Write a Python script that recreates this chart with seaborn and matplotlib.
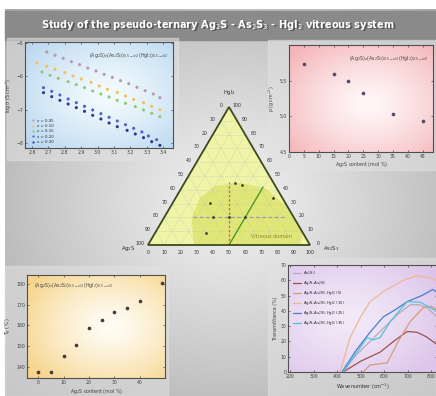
import numpy as np
import pandas as pd
import seaborn as sns
import matplotlib.pyplot as plt
from matplotlib.patches import Polygon, Rectangle

# ---- data ----
# top-left: conductivity vs 1000/T
x_labels_tl = ["x = 0.05", "x = 0.10", "x = 0.15", "x = 0.20", "x = 0.30"]
invT_a = [2.69, 2.74, 2.79, 2.84, 2.89, 2.94, 2.99, 3.04, 3.09, 3.14, 3.19, 3.24, 3.29, 3.34, 3.38]
logs_a = [-5.27, -5.37, -5.46, -5.56, -5.65, -5.75, -5.84, -5.94, -6.03, -6.13, -6.22, -6.33, -6.43, -6.53, -6.64]
invT_b = [2.63, 2.69, 2.74, 2.80, 2.85, 2.90, 2.96, 3.01, 3.06, 3.12, 3.17, 3.22, 3.28, 3.33, 3.38]
logs_b = [-5.60, -5.70, -5.79, -5.89, -5.99, -6.08, -6.18, -6.29, -6.39, -6.48, -6.59, -6.69, -6.79, -6.90, -7.00]
invT_c = [2.66, 2.71, 2.76, 2.82, 2.87, 2.92, 2.97, 3.02, 3.07, 3.12, 3.17, 3.23, 3.28, 3.33, 3.38]
logs_c = [-5.87, -5.97, -6.06, -6.16, -6.25, -6.34, -6.44, -6.53, -6.62, -6.72, -6.81, -6.91, -7.01, -7.11, -7.21]
invT_d = [2.67, 2.72, 2.77, 2.82, 2.87, 2.92, 2.97, 3.02, 3.07, 3.12, 3.17, 3.22, 3.27, 3.31, 3.36]
logs_d = [-6.34, -6.45, -6.56, -6.68, -6.79, -6.90, -7.01, -7.12, -7.23, -7.34, -7.45, -7.56, -7.67, -7.79, -7.90]
invT_e = [2.67, 2.72, 2.77, 2.82, 2.87, 2.92, 2.97, 3.02, 3.07, 3.12, 3.18, 3.23, 3.28, 3.33, 3.38]
logs_e = [-6.49, -6.61, -6.72, -6.83, -6.94, -7.05, -7.17, -7.28, -7.40, -7.51, -7.62, -7.73, -7.84, -7.96, -8.07]

# top-right: density vs Ag2S content
ag_tr = [5, 15, 20, 25, 35, 45]
rho_tr = [5.74, 5.60, 5.50, 5.33, 5.03, 4.93]

# bottom-left: Tg vs Ag2S content
ag_bl = [0, 5, 10, 15, 20, 25, 30, 35, 40, 49]
tg_bl = [137.6, 137.6, 145.3, 150.6, 158.8, 162.6, 166.5, 168.4, 171.8, 180.4]

# bottom-right: IR transmission
tr_labels = ["As$_2$S$_3$", "Ag$_2$S-As$_2$S$_3$", "Ag$_2$S-As$_2$S$_3$-HgI$_2$ (5)",
             "Ag$_2$S-As$_2$S$_3$-HgI$_2$ (15)", "Ag$_2$S-As$_2$S$_3$-HgI$_2$ (25)",
             "Ag$_2$S-As$_2$S$_3$-HgI$_2$ (35)"]
wn_1 = [425, 480, 540, 613, 660, 711, 750, 783, 825]
tr_1 = [0, 11, 20, 31, 38, 44, 44, 42, 36]
wn_2 = [425, 500, 583, 640, 698, 740, 780, 825]
tr_2 = [0, 7, 13, 20, 26.5, 26, 23, 18]
wn_3 = [511, 540, 613, 660, 711, 766, 800, 825]
tr_3 = [0, 4.6, 6, 20, 33, 42, 43, 41]
wn_4 = [413, 455, 500, 540, 600, 681, 740, 796, 825]
tr_4 = [0, 22.5, 36, 46, 53, 60, 62.9, 61.6, 59.6]
wn_5 = [421, 480, 540, 596, 650, 698, 760, 808, 825]
tr_5 = [0, 14, 26, 36, 41, 46, 50, 54, 52]
wn_6 = [425, 480, 528, 553, 583, 626, 698, 753, 825]
tr_6 = [0, 12, 22.5, 21, 22.5, 33, 46, 45.7, 39.7]

# ternary: glass forming region (Ag2S %, HgI2 %) and sample points (Ag2S, As2S3, HgI2)
reg_ag = [70, 63, 51, 37, 21, 7, 1, 0, 6, 71]
reg_hg = [4, 20, 34, 43, 45, 41, 29, 9, 0, 0]
pt_ag = [24, 20.5, 46.5, 6, 60, 50, 40, 30]
pt_as = [31, 36, 23, 60, 31, 30, 40, 50]
pt_hg = [45, 43.5, 30.5, 34, 9, 20, 20, 20]

W, H = 436, 396
sns.set_style("ticks")
plt.rcParams["font.family"] = ["DejaVu Sans"]

fig = plt.figure(figsize=(W / 100, H / 100), dpi=100)
fig.patch.set_facecolor("white")


def radial(c_in, c_out, n=120, cx=0.5, cy=0.5, p=1.3):
    yy, xx = np.mgrid[0:1:n * 1j, 0:1:n * 1j]
    r = np.sqrt((xx - cx) ** 2 + (yy - cy) ** 2) / 0.72
    r = np.clip(r, 0, 1) ** p
    a = np.array(plt.matplotlib.colors.to_rgb(c_in))
    b = np.array(plt.matplotlib.colors.to_rgb(c_out))
    return a[None, None, :] * (1 - r[..., None]) + b[None, None, :] * r[..., None]


# background
bg = fig.add_axes([0, 0, 1, 1])
bg.set_xlim(0, W)
bg.set_ylim(H, 0)
bg.axis("off")
bg.imshow(radial("#f2f2f2", "#a8a8a8", cx=0.52, cy=0.5, p=1.1), extent=[5, W, H, 9],
          aspect="auto", interpolation="bilinear", zorder=0)
bg.add_patch(Rectangle((5, 11), W - 5, 29, color="#8a8a8a", zorder=1))
title = "Study of the pseudo-ternary Ag$_2$S - As$_2$S$_3$ - HgI$_2$ vitreous system"
bg.text(W / 2 + 1.2, 26.2, title, color="#555555", fontsize=7.0, fontweight="bold",
        ha="center", va="center", zorder=2)
bg.text(W / 2, 25, title, color="white", fontsize=7.0, fontweight="bold",
        ha="center", va="center", zorder=3)
for (x0, y0, x1, y1) in [(7, 38, 178, 160), (268, 40, 436, 170), (5, 266, 168, 396), (268, 258, 436, 396)]:
    bg.add_patch(Rectangle((x0, y0), x1 - x0, y1 - y0, color="#e2e2e2", alpha=0.55, zorder=1))


def inset(l, t, r, b, c_in, c_out, cx=0.5, cy=0.5):
    ax = fig.add_axes([l / W, 1 - b / H, (r - l) / W, (b - t) / H])
    ax.imshow(radial(c_in, c_out, cx=cx, cy=cy), extent=[0, 1, 0, 1], transform=ax.transAxes,
              aspect="auto", interpolation="bilinear", zorder=0)
    for s in ax.spines.values():
        s.set_color("#505050")
        s.set_linewidth(0.8)
    ax.tick_params(labelsize=3.3, length=1.5, width=0.5, pad=1.2, colors="#404040", direction="in",
                   top=True, right=True)
    return ax


small = dict(fontsize=3.4, color="#404040")
formula = r"(Ag$_2$S)$_x$(As$_2$S$_3$)$_{0.5-x/2}$(HgI$_2$)$_{0.5-x/2}$"

# ---- top-left ----
ax1 = inset(25, 42, 173, 148, "#f4fbfd", "#b8d6f0", cx=0.55, cy=0.5)
tl = pd.concat([
    pd.DataFrame({"invT": invT_a, "logs": logs_a, "comp": x_labels_tl[0]}),
    pd.DataFrame({"invT": invT_b, "logs": logs_b, "comp": x_labels_tl[1]}),
    pd.DataFrame({"invT": invT_c, "logs": logs_c, "comp": x_labels_tl[2]}),
    pd.DataFrame({"invT": invT_d, "logs": logs_d, "comp": x_labels_tl[3]}),
    pd.DataFrame({"invT": invT_e, "logs": logs_e, "comp": x_labels_tl[4]}),
])
pal_tl = ["#b898b4", "#f0c25a", "#8fc878", "#4e62c4", "#2e3888"]
sns.scatterplot(data=tl, x="invT", y="logs", hue="comp", palette=pal_tl, s=5, linewidth=0,
                ax=ax1, zorder=3)
ax1.set_xlim(2.557, 3.46)
ax1.set_ylim(-8.15, -4.97)
ax1.set_xticks([2.6, 2.7, 2.8, 2.9, 3.0, 3.1, 3.2, 3.3, 3.4])
ax1.set_yticks([-8, -7, -6, -5])
ax1.set_xlabel("")
ax1.set_ylabel("log σ (S cm$^{-1}$)", fontsize=3.4, color="#404040", labelpad=2)
ax1.legend(loc="lower left", fontsize=2.8, frameon=False, markerscale=0.7, handletextpad=0.2,
           labelspacing=0.35, borderaxespad=0.6)
ax1.text(0.97, 0.86, formula, transform=ax1.transAxes, ha="right", **small)

# ---- top-right ----
ax2 = inset(289, 45, 433, 152, "#fff8f8", "#f4b4b8", cx=0.55, cy=0.55)
sns.scatterplot(x=ag_tr, y=rho_tr, color="#5a4a6a", s=7, linewidth=0, ax=ax2, zorder=3)
ax2.set_xlim(0, 48.5)
ax2.set_ylim(4.5, 6.0)
ax2.set_xticks(range(0, 50, 5))
ax2.set_yticks([4.5, 5.0, 5.5])
ax2.set_ylabel("ρ (g cm$^{-3}$)", fontsize=3.4, color="#404040", labelpad=2)
ax2.set_xlabel("Ag$_2$S content (mol %)", fontsize=3.4, color="#404040", labelpad=1)
ax2.text(0.97, 0.86, formula, transform=ax2.transAxes, ha="right", **small)

# ---- bottom-left ----
ax3 = inset(27, 275, 165, 378, "#fffdf6", "#f6d48a", cx=0.6, cy=0.5)
sns.scatterplot(x=ag_bl, y=tg_bl, color="#4a3a3a", s=7, linewidth=0, ax=ax3, zorder=3)
ax3.set_xlim(-4.4, 50)
ax3.set_ylim(134.7, 184.3)
ax3.set_xticks([0, 10, 20, 30, 40])
ax3.set_yticks([140, 150, 160, 170, 180])
ax3.set_xlabel("Ag$_2$S content (mol %)", fontsize=3.4, color="#404040", labelpad=2)
ax3.set_ylabel("T$_g$ (°C)", fontsize=3.4, color="#404040", labelpad=2)
ax3.text(0.05, 0.88, formula, transform=ax3.transAxes, ha="left", **small)

# ---- bottom-right ----
ax4 = inset(288, 265, 437, 372, "#f3eaf8", "#dcc4ea", cx=0.4, cy=0.5)
pal_tr = ["#b8aab8", "#9a5252", "#d89a7a", "#ecb894", "#4a7ed0", "#52c2dc"]
curves = [(wn_1, tr_1), (wn_2, tr_2), (wn_3, tr_3), (wn_4, tr_4), (wn_5, tr_5), (wn_6, tr_6)]
for (wn, tr), lab, col in zip(curves, tr_labels, pal_tr):
    sns.lineplot(x=wn, y=tr, color=col, linewidth=0.9, label=lab, ax=ax4, zorder=3)
ax4.set_xlim(191, 825)
ax4.set_ylim(0, 70)
ax4.set_xticks([200, 300, 400, 500, 600, 700, 800])
ax4.set_yticks(range(0, 80, 10))
ax4.set_xlabel("Wavenumber (cm$^{-1}$)", fontsize=3.6, color="#303030", labelpad=2)
ax4.set_ylabel("Transmittance (%)", fontsize=3.4, color="#404040", labelpad=2)
ax4.legend(loc="upper left", fontsize=2.8, frameon=False, handlelength=2.2, handletextpad=0.4,
           labelspacing=0.5, borderaxespad=0.8)

# ---- ternary diagram ----
axt = fig.add_axes([148 / W, 1 - 245 / H, 162 / W, 138 / H])
axt.set_xlim(0, 1)
axt.set_ylim(0, 0.866)
axt.axis("off")
h3 = np.sqrt(3) / 2


def tern(a, b, c):
    a, b, c = np.asarray(a, float), np.asarray(b, float), np.asarray(c, float)
    s = a + b + c
    return (b + c / 2) / s, c * h3 / s


tri = np.array([tern(100, 0, 0), tern(0, 100, 0), tern(0, 0, 100)])
axt.add_patch(Polygon(tri, closed=True, facecolor="#f0f4a8", edgecolor="none", zorder=1, clip_on=False))
rx, ry = tern(reg_ag, 100 - np.array(reg_ag) - np.array(reg_hg), reg_hg)
axt.add_patch(Polygon(np.column_stack([rx, ry]), closed=True, facecolor="#e0e672",
                      edgecolor="none", alpha=0.9, zorder=2, clip_on=False))
for k in range(10, 100, 10):
    for p0, p1 in [((100 - k, 0, k), (0, 100 - k, k)),
                   ((k, 100 - k, 0), (k, 0, 100 - k)),
                   ((100 - k, k, 0), (0, k, 100 - k))]:
        x0, y0 = tern(*p0)
        x1, y1 = tern(*p1)
        axt.plot([x0, x1], [y0, y1], color="#c4c4a8", lw=0.4, ls=(0, (2, 2)), zorder=2)
axt.add_patch(Polygon(tri, closed=True, facecolor="none", edgecolor="#3c4a1e", lw=1.3, zorder=5,
                      clip_on=False))

# composition lines
lx, ly = tern([50, 27], [50, 27], [0, 46])
axt.plot(lx, ly, color="#e0603a", lw=0.9, ls=(0, (2, 1.5)), zorder=4)
lx, ly = tern([62, 5], [18, 75], [20, 20])
axt.plot(lx, ly, color="#9a9aa8", lw=0.9, ls=(0, (3, 2)), zorder=4)
lx, ly = tern([50, 8], [50, 50], [0, 42])
axt.plot(lx, ly, color="#4a9a2a", lw=1.0, zorder=4)
px, py = tern(pt_ag, pt_as, pt_hg)
sns.scatterplot(x=px, y=py, color="#404030", s=4, linewidth=0, ax=axt, zorder=6)
axt.set_xlim(0, 1)
axt.set_ylim(0, 0.866)

tk = dict(fontsize=3.4, color="#303030", zorder=7, clip_on=False)
for k in range(0, 101, 10):
    x, y = tern(100 - k, k, 0)
    axt.text(x, y - 0.05, str(k), ha="center", va="center", **tk)
    x, y = tern(k, 0, 100 - k)
    axt.text(x - 0.05, y + 0.01, str(k), ha="center", va="center", **tk)
    x, y = tern(0, 100 - k, k)
    axt.text(x + 0.05, y + 0.01, str(k), ha="center", va="center", **tk)
x, y = tern(0, 0, 100)
axt.text(x, y + 0.06, "HgI$_2$", ha="center", va="bottom", fontsize=3.8, color="#303030", clip_on=False)
x, y = tern(100, 0, 0)
axt.text(x - 0.08, y - 0.02, "Ag$_2$S", ha="right", va="center", fontsize=3.8, color="#303030", clip_on=False)
x, y = tern(0, 100, 0)
axt.text(x + 0.08, y - 0.02, "As$_2$S$_3$", ha="left", va="center", fontsize=3.8, color="#303030", clip_on=False)
axt.text(0.76, 0.055, "Vitreous domain", ha="center", va="center", fontsize=3.6, color="#8c8430",
         zorder=7)

fig.savefig("out.png", dpi=100)
